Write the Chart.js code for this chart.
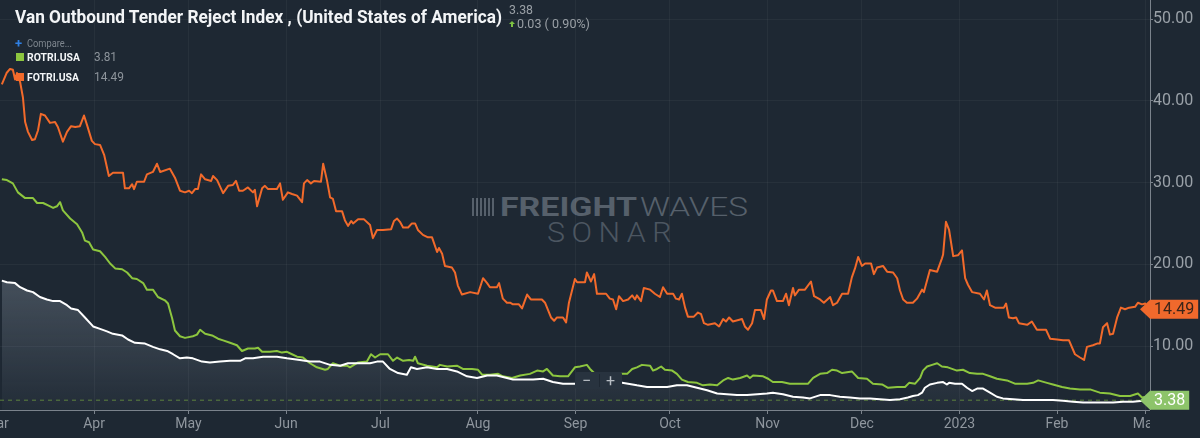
<!DOCTYPE html>
<html>
<head>
<meta charset="utf-8">
<script src="https://cdn.jsdelivr.net/npm/chart.js@4.4.1/dist/chart.umd.min.js"></script>
<style>
  html, body { margin: 0; padding: 0; background: #1e2833; }
  #wrap { position: relative; width: 1200px; height: 438px; overflow: hidden; font-family: Roboto, "Noto Sans", sans-serif; }
  #chart { position: absolute; left: 0; top: 0; z-index: 1; }
  .t { position: absolute; white-space: nowrap; line-height: 1; transform-origin: 0 0; }
  .wm { z-index: 0; }
  .ov { z-index: 2; }
  .sq { position: absolute; width: 8px; height: 8px; z-index: 2; }
</style>
</head>
<body>
<div id="wrap">
  <!-- watermark, under the canvas -->
  <div class="wm" style="position:absolute;left:472px;top:198px;width:22px;height:18px;background:repeating-linear-gradient(90deg,#56606b 0 2px,transparent 2px 4px);"></div>
  <div class="t wm" data-w="137" style="left:500px;top:195px;font-size:25px;font-weight:700;color:#56606b;">FREIGHT</div>
  <div class="t wm" data-w="108" style="left:640px;top:195px;font-size:25px;font-weight:300;color:#56606b;">WAVES</div>
  <div class="t wm" data-w="131" style="left:547px;top:219px;font-size:28px;font-weight:300;color:#4c5661;letter-spacing:6px;">SONAR</div>

  <canvas id="chart" width="1200" height="438"></canvas>

  <!-- header -->
  <div class="t ov" data-w="487" style="left:15px;top:6.8px;font-size:19px;font-weight:700;color:#f3f5f7;">Van Outbound Tender Reject Index , (United States of America)</div>
  <div class="t ov" data-w="24" style="left:509px;top:4.3px;font-size:12.7px;color:#9aa0a6;">3.38</div>
  <div class="ov" style="position:absolute;left:509px;top:21px;width:0;height:0;border-left:3px solid transparent;border-right:3px solid transparent;border-bottom:3px solid #7dc142;"></div>
  <div class="ov" style="position:absolute;left:511px;top:24px;width:2px;height:3px;background:#7dc142;"></div>
  <div class="t ov" data-w="73" style="left:517px;top:17.6px;font-size:12.7px;color:#9aa0a6;">0.03 ( 0.90%)</div>

  <div class="t ov" style="left:15px;top:37px;font-size:13px;font-weight:700;color:#2f80e4;">+</div>
  <div class="t ov" data-w="45" style="left:27px;top:38.7px;font-size:10px;color:#7f878f;">Compare...</div>

  <div class="sq" style="left:15.5px;top:53px;background:#8dc63f;"></div>
  <div class="t ov" data-w="53" style="left:27px;top:51.6px;font-size:11px;font-weight:700;color:#f3f5f7;">ROTRI.USA</div>
  <div class="t ov" data-w="23" style="left:94px;top:51.4px;font-size:12.5px;color:#8d949b;">3.81</div>

  <div class="sq" style="left:15.5px;top:73px;background:#f26a2b;"></div>
  <div class="t ov" data-w="52" style="left:27px;top:71.6px;font-size:11px;font-weight:700;color:#f3f5f7;">FOTRI.USA</div>
  <div class="t ov" data-w="30" style="left:94px;top:71.4px;font-size:12.5px;color:#8d949b;">14.49</div>

  <!-- zoom control -->
  <div class="ov" style="position:absolute;left:575px;top:372px;width:47px;height:17px;background:#28333f;border-radius:2px;">
    <div style="position:absolute;left:24px;top:2px;width:1px;height:13px;background:#1e2833;"></div>
    <div class="t" style="left:7px;top:1px;font-size:16px;color:#b9bfc5;">&minus;</div>
    <div class="t" style="left:31px;top:1px;font-size:16px;color:#b9bfc5;">+</div>
  </div>
</div>

<script>
// days counted from 1 Mar 2022
const monthDays = [0, 31, 61, 92, 122, 153, 184, 214, 245, 275, 306, 337, 365];
const monthLabels = ['Mar', 'Apr', 'May', 'Jun', 'Jul', 'Aug', 'Sep', 'Oct', 'Nov', 'Dec', '2023', 'Feb', 'Mar'];
const yTicks = [10, 20, 30, 40, 50];

// Van Outbound Tender Reject Index (white)
const vanDays = [
  1.7, 3.3, 5.9, 7.5, 9.7, 11.6, 13.8, 16.0, 18.0, 20.2,
  22.4, 23.7, 25.9, 28.1, 30.7, 32.9, 35.1, 37.0, 39.9, 41.8,
  44.0, 47.2, 49.7, 52.0, 54.2, 56.1, 58.3, 60.5, 62.4, 65.3,
  67.8, 71.0, 74.2, 77.4, 79.0, 81.5, 84.7, 89.1, 92.3, 96.4,
  99.6, 102.8, 106.0, 109.2, 111.7, 114.6, 118.7, 120.9, 122.8, 125.0,
  127.6, 130.4, 131.7, 133.6, 136.8, 140.0, 143.2, 146.3, 149.5, 152.7,
  155.9, 159.0, 162.2, 164.1, 167.3, 170.5, 173.7, 176.8, 180.0, 183.2,
  190.2, 195.0, 198.8, 200.7, 203.5, 206.7, 209.9, 213.1, 216.2, 219.4,
  222.6, 225.8, 229.0, 232.1, 235.3, 238.5, 241.7, 244.8, 246.7, 249.9,
  253.1, 256.3, 258.5, 261.7, 264.9, 268.0, 271.2, 274.4, 277.6, 280.7,
  283.9, 287.1, 289.6, 291.2, 292.8, 294.1, 295.0, 296.6, 298.9, 300.8,
  302.0, 302.7, 304.6, 306.8, 308.4, 310.0, 311.6, 313.5, 315.7, 317.9,
  319.8, 323.0, 326.2, 329.4, 332.5, 335.7, 338.9, 342.1, 345.3, 348.4,
  351.6, 354.8, 358.0, 361.1, 364.3, 365.6
];
const vanValues = [
  18.0, 17.8, 17.7, 17.2, 16.8, 16.6, 16.0, 15.7, 15.5, 15.5,
  15.0, 14.6, 14.4, 13.5, 12.4, 12.1, 11.8, 11.5, 11.3, 10.8,
  10.4, 10.3, 9.9, 9.6, 9.4, 9.0, 8.5, 8.6, 8.5, 8.1,
  8.0, 8.1, 8.2, 8.2, 8.5, 8.5, 8.7, 8.7, 8.5, 8.3,
  8.1, 8.1, 7.7, 7.6, 7.9, 7.9, 7.9, 8.1, 8.1, 7.2,
  6.7, 6.5, 7.4, 7.2, 7.4, 7.2, 7.2, 6.9, 6.3, 6.1,
  6.4, 6.4, 6.1, 5.9, 5.9, 5.9, 6.0, 5.6, 5.4, 5.4,
  5.4, 5.5, 5.5, 5.4, 5.2, 5.0, 5.0, 5.0, 5.2, 5.2,
  4.9, 4.6, 4.2, 4.1, 4.0, 4.0, 4.1, 4.2, 4.3, 4.1,
  3.8, 3.7, 3.6, 4.0, 4.0, 3.8, 3.7, 3.6, 3.6, 3.5,
  3.4, 3.5, 3.7, 3.9, 4.0, 4.3, 4.9, 5.3, 5.5, 5.6,
  5.3, 5.5, 5.4, 5.4, 4.9, 4.5, 4.8, 4.8, 4.3, 3.8,
  3.6, 3.5, 3.4, 3.4, 3.4, 3.4, 3.3, 3.2, 3.1, 3.1,
  3.1, 3.1, 3.2, 3.2, 3.3, 3.38
];

// ROTRI.USA (green)
const rotriDays = [
  1.7, 3.3, 5.2, 6.8, 9.1, 10.6, 11.6, 12.9, 14.8, 16.4,
  18.0, 19.2, 20.2, 21.1, 23.4, 25.6, 27.2, 28.1, 29.4, 30.7,
  32.9, 34.5, 36.1, 37.7, 39.9, 41.5, 43.1, 44.6, 46.6, 47.8,
  49.7, 51.3, 53.5, 54.5, 55.8, 56.7, 58.3, 59.9, 62.4, 63.7,
  64.7, 66.3, 68.5, 70.4, 72.0, 74.2, 76.4, 78.0, 79.9, 82.1,
  83.1, 84.4, 86.9, 89.1, 90.7, 92.3, 93.9, 95.5, 97.4, 99.6,
  101.8, 104.4, 105.3, 106.9, 109.2, 111.4, 112.3, 114.9, 117.7, 119.0,
  120.3, 121.9, 124.4, 126.0, 127.3, 129.2, 131.1, 132.4, 133.0, 133.9,
  136.8, 140.0, 140.9, 143.2, 146.3, 148.2, 151.1, 153.0, 154.3, 156.8,
  159.4, 160.9, 163.8, 166.4, 169.5, 171.8, 173.7, 174.9, 176.8, 179.1,
  181.6, 183.8, 185.4, 187.6, 188.6, 189.9, 193.4, 198.8, 200.4, 202.0,
  203.5, 205.1, 207.7, 208.6, 209.9, 211.2, 212.4, 214.7, 216.2, 217.8,
  219.7, 222.6, 224.5, 226.7, 229.0, 230.9, 232.5, 234.0, 236.3, 238.5,
  239.4, 240.4, 243.6, 245.2, 246.7, 249.6, 252.1, 255.3, 257.9, 259.5,
  261.7, 263.9, 265.5, 267.1, 268.7, 271.8, 273.8, 276.6, 278.5, 281.4,
  283.3, 286.2, 288.7, 290.0, 291.9, 293.5, 294.4, 295.7, 297.3, 298.9,
  300.4, 302.3, 305.2, 307.1, 309.3, 311.6, 313.5, 315.7, 317.9, 321.1,
  323.6, 327.5, 329.4, 331.0, 333.8, 335.7, 338.6, 341.1, 344.3, 347.5,
  350.6, 353.8, 357.0, 360.2, 362.7, 364.0, 365.6
];
const rotriValues = [
  30.4, 30.3, 29.9, 28.8, 28.1, 28.1, 28.1, 27.5, 27.5, 27.2,
  26.9, 27.1, 27.6, 26.6, 25.6, 24.9, 23.9, 22.9, 22.7, 21.8,
  21.6, 20.9, 20.1, 19.5, 19.4, 19.0, 18.3, 18.2, 17.7, 16.9,
  16.9, 16.0, 15.6, 15.2, 13.4, 11.9, 11.2, 11.0, 11.2, 11.4,
  12.0, 11.5, 11.3, 10.9, 10.7, 10.4, 10.1, 9.4, 9.7, 9.7,
  9.8, 9.3, 9.3, 9.4, 9.2, 9.3, 9.0, 8.7, 8.6, 7.9,
  7.4, 7.1, 7.2, 7.9, 7.6, 7.6, 7.4, 8.0, 8.1, 9.0,
  8.6, 9.0, 9.0, 8.2, 8.6, 8.2, 8.3, 8.2, 8.7, 7.9,
  7.6, 7.4, 7.7, 7.5, 7.6, 7.2, 7.2, 7.1, 6.5, 6.5,
  6.6, 6.3, 6.1, 6.4, 6.6, 7.0, 6.9, 7.2, 6.4, 6.3,
  6.3, 7.4, 7.5, 7.7, 7.2, 6.7, 6.6, 6.6, 6.6, 7.2,
  7.4, 7.7, 7.6, 7.0, 7.2, 7.5, 7.1, 7.0, 6.6, 5.9,
  5.6, 5.5, 5.2, 5.3, 5.2, 5.8, 6.1, 5.9, 6.1, 6.4,
  6.1, 6.4, 6.3, 6.0, 5.6, 5.6, 5.4, 5.4, 5.4, 6.1,
  6.6, 6.7, 7.1, 7.0, 6.7, 6.9, 6.1, 6.0, 5.4, 5.3,
  4.9, 5.0, 5.0, 5.5, 5.4, 6.1, 7.0, 7.5, 7.7, 7.9,
  7.5, 7.4, 7.0, 7.1, 6.7, 6.6, 6.6, 6.3, 6.0, 5.8,
  5.4, 5.4, 5.5, 5.8, 5.5, 5.3, 5.0, 4.8, 4.7, 4.7,
  4.3, 4.2, 3.9, 3.9, 4.2, 3.7, 3.81
];

// FOTRI.USA (orange)
const fotriDays = [
  1.7, 3.2, 4.3, 5.2, 5.9, 6.5, 7.5, 8.4, 9.1, 10.0,
  11.3, 12.2, 13.2, 14.1, 15.4, 17.0, 18.6, 19.5, 21.1, 22.4,
  23.7, 25.0, 26.5, 27.8, 28.8, 30.3, 31.3, 32.9, 34.2, 35.7,
  37.0, 40.2, 40.8, 42.1, 43.1, 43.7, 44.6, 46.9, 47.8, 49.7,
  51.0, 52.0, 55.1, 56.7, 58.3, 59.9, 61.2, 62.1, 63.1, 64.0,
  65.0, 66.3, 68.2, 68.8, 70.1, 72.0, 73.6, 75.1, 76.1, 77.1,
  78.3, 79.9, 81.5, 82.1, 82.8, 84.4, 85.3, 86.3, 89.1, 90.1,
  91.0, 92.6, 93.9, 95.5, 97.1, 97.7, 98.7, 99.9, 100.9, 103.1,
  103.8, 105.0, 106.0, 106.9, 107.9, 109.8, 110.7, 111.7, 112.7, 113.3,
  114.9, 116.8, 118.7, 119.6, 120.9, 122.8, 125.4, 126.3, 127.3, 128.2,
  129.2, 130.8, 132.0, 133.0, 133.9, 135.5, 137.1, 138.4, 140.0, 140.6,
  141.6, 142.5, 144.7, 145.7, 146.6, 147.9, 150.5, 153.0, 154.6, 155.9,
  156.8, 159.0, 159.7, 160.9, 162.2, 163.2, 164.1, 166.0, 167.0, 168.6,
  169.8, 173.3, 174.3, 176.2, 177.2, 178.1, 180.0, 181.0, 181.9, 183.8,
  184.5, 187.0, 187.6, 188.9, 189.9, 190.8, 193.7, 194.9, 195.9, 196.9,
  197.8, 199.1, 200.7, 202.0, 202.9, 203.5, 204.8, 205.7, 207.7, 209.2,
  210.8, 211.8, 213.1, 215.0, 215.9, 216.9, 217.8, 218.8, 219.7, 221.6,
  222.9, 223.9, 224.8, 226.1, 228.3, 229.6, 230.9, 231.8, 232.8, 234.0,
  236.9, 237.8, 238.8, 240.1, 241.0, 242.9, 243.9, 244.8, 246.1, 246.7,
  248.0, 249.9, 250.9, 251.8, 253.1, 253.7, 255.0, 256.9, 258.8, 259.8,
  261.7, 262.9, 264.9, 265.8, 267.1, 268.7, 270.6, 271.8, 272.8, 273.8,
  275.0, 276.0, 277.9, 278.8, 279.8, 281.7, 283.0, 284.9, 286.2, 287.1,
  288.1, 289.3, 291.2, 292.5, 294.1, 294.7, 296.6, 298.9, 300.4, 300.8,
  301.7, 302.7, 304.0, 305.5, 306.8, 307.8, 308.7, 310.0, 312.5, 313.8,
  314.7, 315.7, 317.3, 320.1, 320.8, 321.7, 323.0, 324.0, 324.9, 327.5,
  329.0, 330.6, 333.5, 334.8, 337.0, 338.9, 340.8, 342.7, 344.3, 345.6,
  346.5, 348.4, 349.7, 350.6, 351.6, 352.9, 353.8, 354.8, 356.1, 357.3,
  358.6, 359.9, 361.8, 362.7, 364.0, 365.0, 365.9
];
const fotriValues = [
  42.0, 43.4, 43.9, 43.8, 42.6, 43.4, 42.3, 40.4, 37.4, 36.2,
  35.2, 35.3, 36.4, 38.4, 38.2, 37.3, 37.4, 36.8, 35.0, 36.2,
  36.9, 36.8, 36.9, 38.2, 37.0, 35.1, 34.7, 34.6, 33.4, 30.8,
  31.2, 31.2, 29.3, 29.3, 29.8, 29.2, 30.1, 30.1, 31.0, 31.3,
  32.3, 31.3, 31.7, 30.6, 29.0, 28.8, 29.0, 28.7, 29.2, 29.2,
  31.0, 30.4, 30.2, 30.8, 30.3, 28.7, 29.6, 29.7, 30.2, 29.0,
  29.0, 29.4, 28.8, 29.1, 27.1, 29.3, 29.6, 29.2, 29.2, 29.9,
  27.9, 28.8, 28.6, 28.4, 27.6, 29.9, 30.3, 29.9, 30.2, 30.1,
  32.3, 30.3, 28.2, 28.0, 26.5, 26.5, 25.4, 24.7, 25.3, 25.0,
  25.5, 25.5, 24.8, 23.2, 24.2, 24.2, 24.3, 25.3, 25.6, 25.2,
  24.5, 24.5, 25.0, 25.0, 24.2, 23.6, 23.3, 23.3, 21.5, 22.0,
  21.3, 19.8, 19.6, 19.0, 17.4, 16.3, 16.6, 16.4, 18.3, 17.7,
  17.2, 17.2, 17.7, 15.8, 15.3, 15.3, 15.1, 15.1, 14.6, 16.3,
  15.7, 15.7, 15.3, 13.5, 13.1, 13.5, 13.5, 12.9, 15.3, 18.2,
  17.8, 17.8, 19.0, 17.9, 18.8, 16.4, 16.4, 15.8, 15.7, 14.5,
  16.1, 15.5, 15.7, 16.2, 15.7, 16.2, 15.5, 17.1, 16.9, 16.4,
  16.0, 17.2, 16.4, 16.4, 15.8, 15.7, 16.4, 14.7, 13.6, 13.6,
  14.1, 13.9, 12.8, 12.6, 12.8, 12.4, 13.3, 13.0, 13.5, 13.0,
  13.3, 12.4, 12.0, 12.8, 14.4, 14.4, 13.3, 15.7, 16.8, 16.8,
  15.5, 15.5, 16.4, 15.0, 17.1, 16.2, 16.9, 16.9, 17.9, 16.1,
  15.7, 15.3, 16.0, 15.0, 15.3, 16.4, 16.4, 18.4, 19.5, 20.9,
  19.8, 20.1, 20.1, 18.8, 19.6, 19.8, 19.1, 19.0, 18.3, 16.8,
  15.7, 15.3, 15.3, 15.8, 16.9, 16.6, 19.3, 19.1, 20.7, 21.2,
  25.2, 24.2, 21.0, 21.1, 21.7, 18.3, 17.5, 16.6, 16.4, 15.7,
  16.8, 15.0, 14.7, 14.7, 15.2, 13.5, 13.4, 13.5, 12.8, 12.6,
  13.0, 12.0, 12.0, 10.9, 10.8, 10.7, 10.7, 9.0, 8.6, 8.3,
  9.9, 10.1, 10.3, 10.3, 12.3, 12.8, 11.4, 11.5, 13.5, 14.7,
  14.5, 14.7, 14.8, 15.3, 15.1, 15.2, 14.49
];

const xMin = 1.11, xMax = 366.54;
const yMin = 2.18, yMax = 52.33;

const COLORS = {
  van: '#ffffff',
  rotri: '#8dc63f',
  fotri: '#f26a2b',
  grid: 'rgba(255,255,255,0.045)',
  axis: '#7b838c',
  tick: '#8f969e'
};

// squeeze condensed-looking texts to their measured widths
document.querySelectorAll('[data-w]').forEach(el => {
  const w = +el.dataset.w;
  const real = el.getBoundingClientRect().width;
  if (real > 0) el.style.transform = 'scaleX(' + (w / real) + ')';
});

const toPoints = (days, values) => days.map((d, i) => ({ x: d, y: values[i] }));
const lastVan = vanValues[vanValues.length - 1];
const lastFotri = fotriValues[fotriValues.length - 1];

function areaFill(context) {
  const chart = context.chart;
  const area = chart.chartArea;
  if (!area) return 'transparent';
  const top = chart.scales.y.getPixelForValue(18);
  const g = chart.ctx.createLinearGradient(0, top, 0, area.bottom);
  g.addColorStop(0, 'rgba(150,162,175,0.32)');
  g.addColorStop(1, 'rgba(150,162,175,0.04)');
  return g;
}

function drawTag(ctx, left, y, text, bg, fg) {
  ctx.font = '16px Roboto';
  const w = ctx.measureText(text).width + 8;
  const h = 19;
  ctx.fillStyle = bg;
  ctx.beginPath();
  ctx.moveTo(left - 10, y);
  ctx.lineTo(left, y - h / 2);
  ctx.lineTo(left + w, y - h / 2);
  ctx.lineTo(left + w, y + h / 2);
  ctx.lineTo(left, y + h / 2);
  ctx.closePath();
  ctx.fill();
  ctx.fillStyle = fg;
  ctx.textAlign = 'left';
  ctx.textBaseline = 'middle';
  ctx.fillText(text, left + 4, y + 1);
}

// clip the x labels at the right axis, then draw the last-value tags
const tagPlugin = {
  id: 'tags',
  beforeDraw(chart) {
    const { ctx, chartArea: a } = chart;
    ctx.save();
    ctx.beginPath();
    ctx.rect(0, 0, chart.width, a.bottom);
    ctx.rect(0, a.bottom, a.right, chart.height - a.bottom);
    ctx.clip();
  },
  afterDraw(chart) {
    const { ctx, chartArea: a, scales } = chart;
    drawTag(ctx, a.right, scales.y.getPixelForValue(lastFotri), lastFotri.toFixed(2), '#f0692c', '#3a2419');
    drawTag(ctx, a.right, scales.y.getPixelForValue(lastVan), lastVan.toFixed(2), '#8dc46a', '#ffffff');
    ctx.restore();
  }
};

new Chart(document.getElementById('chart').getContext('2d'), {
  type: 'line',
  data: {
    datasets: [
      {
        label: 'Van Outbound Tender Reject Index',
        data: toPoints(vanDays, vanValues),
        borderColor: COLORS.van,
        borderWidth: 2,
        fill: 'start',
        backgroundColor: areaFill,
        order: 0
      },
      {
        label: 'ROTRI.USA',
        data: toPoints(rotriDays, rotriValues),
        borderColor: COLORS.rotri,
        borderWidth: 2,
        fill: false,
        order: 1
      },
      {
        label: 'FOTRI.USA',
        data: toPoints(fotriDays, fotriValues),
        borderColor: COLORS.fotri,
        borderWidth: 2,
        fill: false,
        order: 2
      },
      {
        label: 'last',
        data: [{ x: xMin, y: lastVan }, { x: xMax, y: lastVan }],
        borderColor: 'rgba(141,198,63,0.55)',
        borderWidth: 1,
        borderDash: [4, 4],
        fill: false,
        order: 3
      }
    ]
  },
  options: {
    responsive: false,
    animation: false,
    layout: { padding: 0 },
    plugins: {
      legend: { display: false },
      tooltip: { enabled: false },
      filler: { drawTime: 'beforeDatasetsDraw' }
    },
    elements: {
      point: { radius: 0 },
      line: { tension: 0, borderJoinStyle: 'round' }
    },
    scales: {
      x: {
        type: 'linear',
        min: xMin,
        max: xMax,
        afterBuildTicks: s => { s.ticks = monthDays.map(v => ({ value: v })); },
        afterFit: s => { s.height = 28; s.paddingLeft = 0; s.paddingRight = 0; },
        ticks: {
          autoSkip: false,
          maxRotation: 0,
          padding: 2,
          color: COLORS.tick,
          font: { family: 'Roboto', size: 14 },
          callback: v => monthLabels[monthDays.indexOf(v)]
        },
        grid: { color: COLORS.grid, tickColor: COLORS.axis, tickLength: 4 },
        border: { color: COLORS.axis, width: 1 }
      },
      y: {
        position: 'right',
        min: yMin,
        max: yMax,
        afterBuildTicks: s => { s.ticks = yTicks.map(v => ({ value: v })); },
        afterFit: s => { s.width = 50; s.paddingTop = 0; s.paddingBottom = 0; },
        ticks: {
          padding: 0,
          color: '#9aa1a8',
          font: { family: 'Roboto', size: 16 },
          callback: v => v.toFixed(2)
        },
        grid: { color: COLORS.grid, tickColor: COLORS.axis, tickLength: 3 },
        border: { color: COLORS.axis, width: 1 }
      }
    }
  },
  plugins: [tagPlugin]
});
</script>
</body>
</html>
